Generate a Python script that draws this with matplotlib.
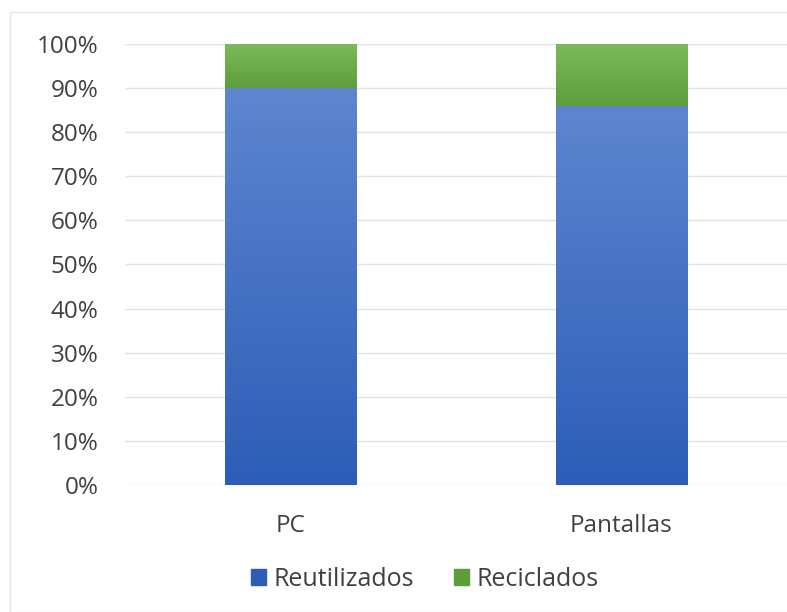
import matplotlib
matplotlib.use("Agg")
import matplotlib.pyplot as plt
import numpy as np
from matplotlib.patches import Rectangle
from matplotlib.colors import LinearSegmentedColormap
from matplotlib.ticker import FuncFormatter, MultipleLocator

categories = ["PC", "Pantallas"]
reutilizados = [0.90, 0.86]
reciclados = [0.10, 0.14]
series_names = ["Reutilizados", "Reciclados"]

plt.rcParams['font.family'] = ['Open Sans', 'DejaVu Sans']

fig = plt.figure(figsize=(7.87, 6.12), dpi=100)
fig.patch.set_facecolor("white")
# frame
fig.patches.append(Rectangle((10/787, 0), 1, 1 - 12/612, transform=fig.transFigure,
                             fill=False, edgecolor="#e6e6e6", linewidth=1))

ax = fig.add_axes([125/787, (612-485)/612, (787-125)/787, 441/612])
x = np.arange(len(categories))
w = 0.396
blue_top, blue_bot = "#5E86D0", "#2D5DB7"
green_top, green_bot = "#7DBA5C", "#5E9D3B"
b1 = ax.bar(x, reutilizados, w, color=blue_bot, label=series_names[0], zorder=2)
b2 = ax.bar(x, reciclados, w, bottom=reutilizados, color=green_bot, label=series_names[1], zorder=2)

def gradient(bars, top, bot):
    cmap = LinearSegmentedColormap.from_list("g", [bot, top])
    for r in bars:
        x0, y0 = r.get_x(), r.get_y()
        ww, hh = r.get_width(), r.get_height()
        grad = np.linspace(0, 1, 256).reshape(-1, 1)
        im = ax.imshow(grad, cmap=cmap, origin="lower", aspect="auto",
                       extent=[x0, x0 + ww, y0, y0 + hh], zorder=2.5)
        im.set_clip_path(r)

gradient(b1, blue_top, blue_bot)
gradient(b2, green_top, green_bot)

ax.set_xlim(-0.5, 1.5)
ax.set_ylim(0, 1.0)
ax.yaxis.set_major_locator(MultipleLocator(0.1))
ax.yaxis.set_major_formatter(FuncFormatter(lambda v, p: f"{v*100:.0f}%"))
ax.set_xticks(x)
ax.set_xticklabels(categories)
ax.grid(axis="y", color="#e3e3e3", linewidth=1, zorder=0)
ax.set_axisbelow(True)
for s in ax.spines.values():
    s.set_visible(False)
ax.tick_params(length=0, labelsize=17.5, colors="#404040")
ax.tick_params(axis="y", pad=19)
ax.tick_params(axis="x", pad=21)

leg = fig.legend(handles=[b1, b2], labels=series_names, loc="center",
                 bbox_to_anchor=(425/787, 1 - 579/612), ncol=2, frameon=False,
                 fontsize=18, handlelength=0.6, handleheight=0.6, handletextpad=0.3,
                 columnspacing=1.6, labelcolor="#404040")
leg.legend_handles[0].set_color(blue_bot)
leg.legend_handles[1].set_color(green_bot)

fig.savefig("out.png", dpi=100)
